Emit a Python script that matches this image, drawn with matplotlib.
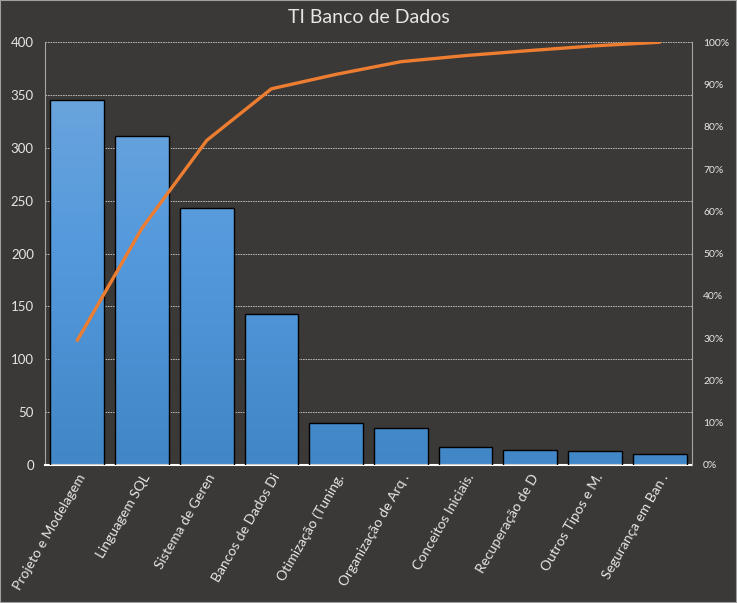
import numpy as np
import matplotlib
matplotlib.use('Agg')
import matplotlib.pyplot as plt
from matplotlib.colors import LinearSegmentedColormap
from matplotlib.patches import Rectangle

# data
categories = ['Projeto e Modelagem', 'Linguagem SQL', 'Sistema de Geren',
              'Bancos de Dados Di', 'Otimização (Tuning.', 'Organização de Arq .',
              'Conceitos Iniciais.', 'Recuperação de D', 'Outros Tipos e M.',
              'Segurança em Ban .']
counts = [345, 311, 243, 143, 40, 35, 17, 14, 13, 10]
left_ticks = [0, 50, 100, 150, 200, 250, 300, 350, 400]
right_ticks = [0, 10, 20, 30, 40, 50, 60, 70, 80, 90, 100]

cumulative = np.cumsum(counts) / np.sum(counts) * 100

bg = '#3b3937'
txt = '#e6e6e6'
plt.rcParams['font.family'] = ['Lato', 'DejaVu Sans']

fig = plt.figure(figsize=(7.37, 6.03), dpi=100, facecolor=bg)
fig.patches.append(Rectangle((0, 0), 1, 1, transform=fig.transFigure,
                             fill=False, edgecolor='#a0a0a0', linewidth=1.5))
ax = fig.add_axes([0.061, 0.229, 0.878, 0.701])
ax.set_facecolor(bg)

x = np.arange(len(categories))
bars = ax.bar(x, counts, width=0.83, color='none', edgecolor='black',
              linewidth=1.0, zorder=3)

# vertical gradient, lighter at the top of the plot area
cmap = LinearSegmentedColormap.from_list('blu', ['#4187c7', '#5399dc', '#72a8dd'])
grad = np.linspace(0, 1, 256).reshape(-1, 1)
for b in bars:
    x0, w, h = b.get_x(), b.get_width(), b.get_height()
    im = ax.imshow(grad[:int(256 * h / 400) + 1], cmap=cmap, vmin=0, vmax=1,
                   extent=[x0, x0 + w, 0, h], origin='lower', aspect='auto',
                   zorder=2)
    im.set_clip_path(b)

ax.set_xlim(-0.5, len(categories) - 0.5)
ax.set_ylim(0, 400)
ax.set_yticks(left_ticks)
ax.yaxis.grid(True, color='#c8c8c8', linestyle=(0, (2, 1)), linewidth=0.6, zorder=0)
ax.set_axisbelow(True)
ax.tick_params(axis='y', length=0, colors=txt, labelsize=9.5, pad=8)
ax.tick_params(axis='x', length=0, colors=txt, labelsize=10, pad=5)
ax.set_xticks(x)
ax.set_xticklabels(categories, rotation=60, ha='right', va='top',
                   rotation_mode='anchor')
for s in ['top', 'right']:
    ax.spines[s].set_visible(False)
ax.spines['left'].set_color('#a6a6a6')
ax.spines['bottom'].set_color('white')
ax.spines['bottom'].set_linewidth(1.5)

ax2 = ax.twinx()
ax2.plot(x, cumulative, color='#ed7d31', linewidth=2.4, zorder=5,
         solid_capstyle='round')
ax2.set_ylim(0, 100)
ax2.set_yticks(right_ticks)
ax2.set_yticklabels([f'{t}%' for t in right_ticks])
ax2.tick_params(axis='y', length=0, colors=txt, labelsize=7.5, pad=8)
for s in ['top', 'left', 'bottom']:
    ax2.spines[s].set_visible(False)
ax2.spines['right'].set_color('#a6a6a6')

fig.suptitle('TI Banco de Dados', color=txt, fontsize=14, y=0.985)

fig.savefig('out.png', dpi=100, facecolor=bg)
